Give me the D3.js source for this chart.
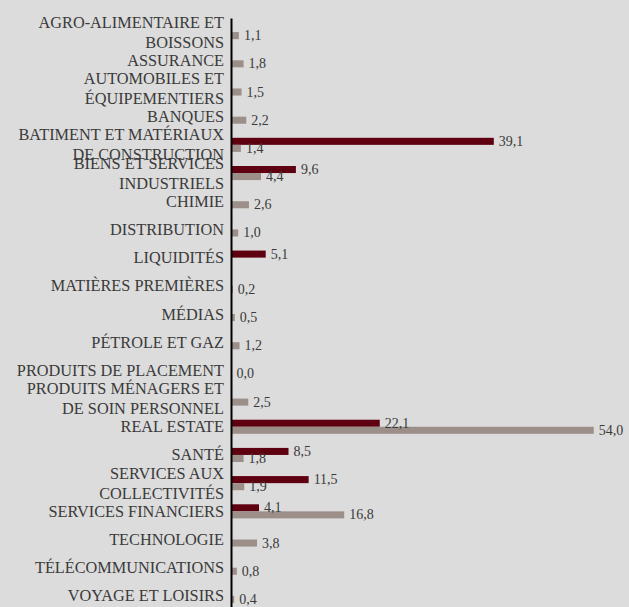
<!DOCTYPE html>
<html>
<head>
<meta charset="utf-8">
<script src="https://cdn.jsdelivr.net/npm/d3@7"></script>
<style>
  body { margin: 0; background: #dcdcdc; }
  svg { display: block; }
  text { font-family: "Liberation Serif", "Times New Roman", Times, serif; }
</style>
</head>
<body>
<div id="chart"></div>
<script>
var categories = [
    "AGRO-ALIMENTAIRE ET\nBOISSONS", "ASSURANCE", "AUTOMOBILES ET\nÉQUIPEMENTIERS",
    "BANQUES", "BATIMENT ET MATÉRIAUX\nDE CONSTRUCTION", "BIENS ET SERVICES\nINDUSTRIELS",
    "CHIMIE", "DISTRIBUTION", "LIQUIDITÉS", "MATIÈRES PREMIÈRES", "MÉDIAS",
    "PÉTROLE ET GAZ", "PRODUITS DE PLACEMENT", "PRODUITS MÉNAGERS ET\nDE SOIN PERSONNEL",
    "REAL ESTATE", "SANTÉ", "SERVICES AUX\nCOLLECTIVITÉS", "SERVICES FINANCIERS",
    "TECHNOLOGIE", "TÉLÉCOMMUNICATIONS", "VOYAGE ET LOISIRS"
];
var seriesNames = ["s1", "s2"];
var values1 = [null, null, null, null, 39.1, 9.6, null, null, 5.1, null, null,
    null, null, null, 22.1, 8.5, 11.5, 4.1, null, null, null];
var values2 = [1.1, 1.8, 1.5, 2.2, 1.4, 4.4, 2.6, 1.0, null, 0.2, 0.5,
    1.2, 0.0, 2.5, 54.0, 1.8, 1.9, 16.8, 3.8, 0.8, 0.4];

function init()
{
    const width = 629;
    const height = 607;
    var colors = {s1: "#5f0010", s2: "#9c8f8a"};

    var svg = d3.select("#chart")
        .append("svg")
        .attr("width", width)
        .attr("height", height)
        .style("background", "#dcdcdc");

    var x = d3.scaleLinear()
        .domain([0, 60])
        .range([231.5, 634]);

    var y = d3.scaleBand()
        .domain(categories)
        .range([18, 610])
        .paddingInner(0.5)
        .paddingOuter(0.25);

    var y1 = d3.scaleBand()
        .domain(seriesNames)
        .range([0, y.bandwidth()]);

    var rows = [];
    categories.forEach(function(c, i) {
        if (values1[i] != null) rows.push({cat: c, s: "s1", v: values1[i]});
        if (values2[i] != null) rows.push({cat: c, s: "s2", v: values2[i]});
    });

    var fmt = function(v) { return d3.format(".1f")(v).replace(".", ","); };

    svg.selectAll("rect.bar")
        .data(rows)
        .enter()
        .append("rect")
        .attr("class", "bar")
        .attr("x", x(0))
        .attr("y", function(d) { return y(d.cat) + y1(d.s); })
        .attr("width", function(d) { return x(d.v) - x(0); })
        .attr("height", y1.bandwidth())
        .attr("fill", function(d) { return colors[d.s]; });

    svg.selectAll("text.val")
        .data(rows)
        .enter()
        .append("text")
        .attr("class", "val")
        .attr("x", function(d) { return x(d.v) + 5; })
        .attr("y", function(d) { return y(d.cat) + y1(d.s) + y1.bandwidth() / 2; })
        .attr("dominant-baseline", "central")
        .attr("font-size", 14)
        .attr("fill", "#3a3a3a")
        .text(function(d) { return fmt(d.v); });

    var axis = svg.append("g")
        .attr("transform", "translate(231,0)")
        .call(d3.axisLeft(y).tickSize(0).tickSizeOuter(0).tickPadding(7));

    axis.attr("font-family", null);

    axis.select(".domain")
        .attr("stroke", "#000")
        .attr("stroke-width", 2);

    axis.selectAll(".tick text")
        .attr("font-size", 16.3)
        .attr("fill", "#3a3a3a")
        .attr("dy", null)
        .each(function(d) {
            var lines = d.split("\n");
            var t = d3.select(this).text(null);
            lines.forEach(function(line, i) {
                t.append("tspan")
                    .attr("x", -7)
                    .attr("y", (i - (lines.length - 1) / 2) * 20)
                    .attr("dominant-baseline", "central")
                    .text(line);
            });
        });
}

init();
</script>
</body>
</html>
